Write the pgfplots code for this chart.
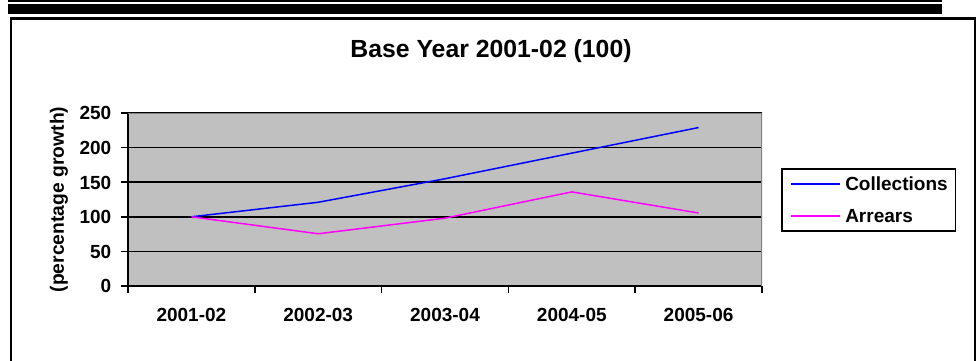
\documentclass[border=0pt]{standalone}
\usepackage{fontspec}
\setmainfont{Liberation Sans}
\usepackage{pgfplots}
\pgfplotsset{compat=1.18}
\definecolor{plotgray}{RGB}{192,192,192}
\definecolor{bordergray}{RGB}{128,128,128}
\definecolor{colblue}{RGB}{0,0,255}
\definecolor{colmag}{RGB}{255,0,255}
\begin{document}
\begin{tikzpicture}[x=1pt,y=1pt]
\useasboundingbox (0,0) rectangle (979,360);
\fill (8,358.25) rectangle (942,359.75);
\fill (8,346) rectangle (942,356);
\draw[line width=2.2pt] (11,-20) -- (11,341.5) -- (975,341.5) -- (975,-20);
\node[anchor=base, inner sep=0pt, font=\fontsize{24.8}{29}\selectfont\bfseries] at (491,302.4) {Base Year 2001-02 (100)};
\begin{axis}[
  at={(128pt,74pt)}, anchor=south west,
  scale only axis, width=634pt, height=173pt,
  xmin=-0.5, xmax=4.5, ymin=0, ymax=250,
  xtick={-0.5,0.5,1.5,2.5,3.5,4.5},
  xticklabels={2001-02,2002-03,2003-04,2004-05,2005-06,{}},
  ytick={0,50,...,250},
  axis x line*=bottom, axis y line*=left,
  axis line style={line width=1.5pt, black},
  tick align=outside,
  major tick length=7pt,
  every tick/.style={black, line width=1.5pt},
  ymajorgrids, major grid style={black, line width=1.5pt},
  axis background/.style={fill=plotgray},
  /pgf/number format/assume math mode=true,
  tick label style={font=\fontsize{19}{22}\selectfont\bfseries, inner sep=0pt, text height=13.6pt, text depth=0pt},
  xticklabel style={anchor=north, xshift=63.4pt, yshift=-15pt},
  yticklabel style={anchor=east, xshift=-9.5pt},
  ylabel={(percentage growth)},
  every axis y label/.style={at={(rel axis cs:0,0.5)}, xshift=-69pt, rotate=90, anchor=center, font=\fontsize{19.3}{22}\selectfont\bfseries},
  legend style={at={(1.030,0.682)}, anchor=north west, draw=black, line width=1.5pt, fill=white,
    inner xsep=8pt, inner ysep=8pt, row sep=18pt, column sep=5pt,
    font=\fontsize{19}{22}\selectfont\bfseries,
    nodes={inner sep=0pt, text height=14pt, text depth=0pt}, cells={anchor=west}},
  legend image code/.code={\draw[#1] (0pt,0pt) -- (49pt,0pt);},
]
\addplot[colblue, line width=1.5pt] coordinates {(0,100) (1,121) (2,155) (3,192) (4,229)};
\addlegendentry{Collections}
\addplot[colmag, line width=1.5pt] coordinates {(0,100) (1,75.5) (2,98) (3,136) (4,105.5)};
\addlegendentry{Arrears}
\draw[bordergray, line width=1.5pt] (rel axis cs:0,1) -- (rel axis cs:1,1) -- (rel axis cs:1,0);
\end{axis}
\end{tikzpicture}
\end{document}
